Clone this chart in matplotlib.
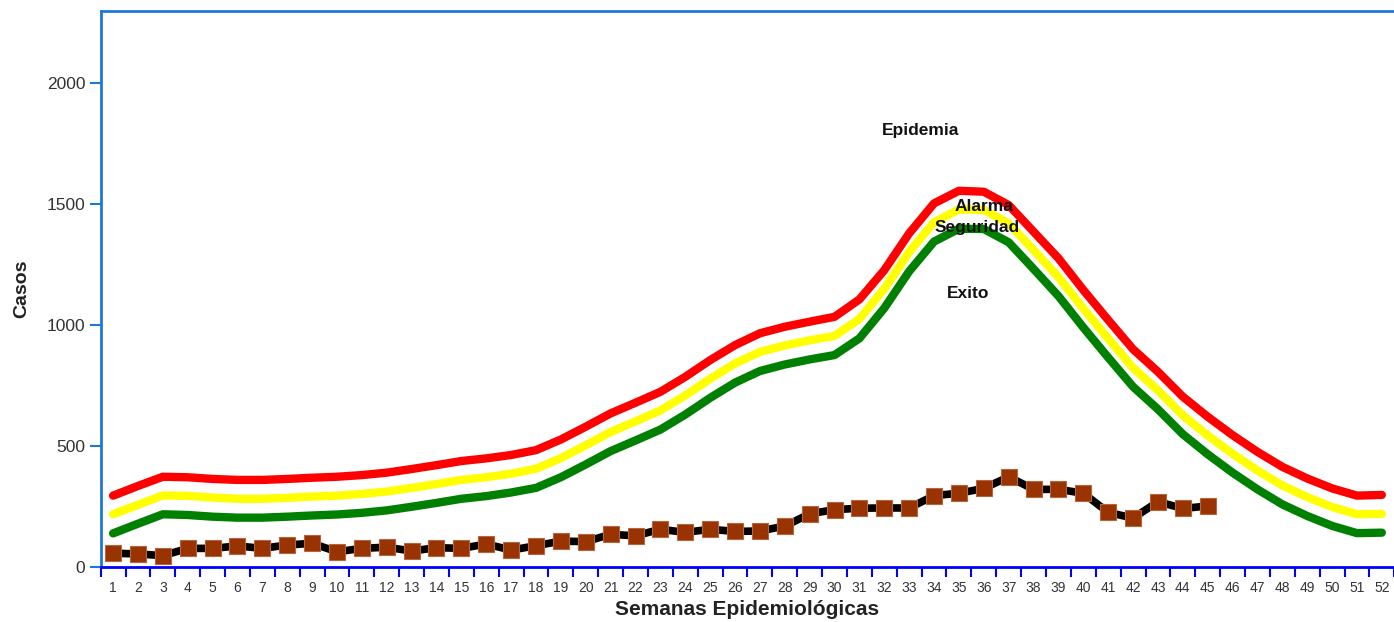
import numpy as np
import matplotlib
matplotlib.use('Agg')
import matplotlib.pyplot as plt
from matplotlib.ticker import FixedLocator

plt.rcParams['font.family'] = ['Liberation Sans', 'DejaVu Sans']

# weeks and the channel (threshold) curves
semanas = np.arange(1, 53)
epidemia = [295, 335, 373, 371, 364, 360, 360, 364, 369, 373, 380, 390, 405, 421, 438, 449,
            463, 483, 527, 580, 635, 679, 724, 786, 855, 917, 966, 993, 1014, 1034, 1106, 1227,
            1379, 1503, 1555, 1551, 1496, 1386, 1276, 1145, 1021, 900, 807, 704, 621, 545,
            476, 414, 366, 325, 295, 298]
alarma = [218, 257, 296, 294, 287, 282, 282, 286, 291, 295, 302, 312, 327, 343, 360, 371,
          386, 406, 450, 503, 558, 602, 647, 709, 778, 841, 889, 916, 937, 955, 1025, 1150,
          1302, 1425, 1478, 1476, 1420, 1310, 1198, 1068, 944, 823, 730, 627, 544, 468,
          399, 337, 289, 248, 218, 220]
seguridad = [139, 179, 218, 215, 208, 204, 204, 208, 213, 217, 224, 234, 249, 265, 282, 293,
             308, 327, 371, 424, 479, 523, 568, 630, 699, 762, 810, 837, 858, 876, 945, 1070,
             1222, 1345, 1398, 1397, 1342, 1232, 1120, 990, 866, 745, 652, 549, 466, 390,
             321, 259, 211, 170, 140, 142]

# observed cases, weeks 1-45
casos = [57, 54, 47, 77, 77, 87, 77, 91, 98, 63, 77, 82, 66, 80, 77, 95, 70, 88, 107, 105,
         135, 129, 156, 143, 156, 147, 149, 169, 220, 237, 243, 244, 244, 295, 305, 325,
         373, 321, 321, 305, 226, 202, 270, 242, 252]
semanas_casos = np.arange(1, len(casos) + 1)

# zone labels: (text, week, value)
zonas = [('Epidemia', 33.47, 1806), ('Alarma', 36.0, 1488),
         ('Seguridad', 35.75, 1404), ('Exito', 35.38, 1131)]

fig = plt.figure(figsize=(13.94, 6.22), dpi=100)
ax = fig.add_axes([0.0722, 0.0884, 0.928, 0.8947])

ax.plot(semanas, epidemia, color='#FF0000', lw=6, solid_capstyle='round', solid_joinstyle='round')
ax.plot(semanas, alarma, color='#FFFF00', lw=6, solid_capstyle='round', solid_joinstyle='round')
ax.plot(semanas, seguridad, color='#008000', lw=6, solid_capstyle='round', solid_joinstyle='round')
ax.plot(semanas_casos, casos, color='black', lw=5.5, solid_joinstyle='round',
        marker='s', ms=11.5, mfc='#993300', mec='#b5653f', mew=0.8)

for txt, x, y in zonas:
    ax.text(x, y, txt, ha='center', va='center', fontsize=12.5, fontweight='bold', color='#111111')

ax.set_xlim(0.5, 52.5)
ax.set_ylim(0, 2300)

ax.set_yticks([0, 500, 1000, 1500, 2000])
ax.tick_params(axis='y', colors='#1E78DC', length=8, width=1.5, labelsize=12.5,
               labelcolor='#333333', pad=3)

ax.set_xticks(semanas)
ax.set_xticklabels([str(s) for s in semanas])
ax.xaxis.set_minor_locator(FixedLocator(np.arange(0.5, 53, 1)))
ax.tick_params(axis='x', which='major', length=0, labelsize=10, labelcolor='#333333', pad=10)
ax.tick_params(axis='x', which='minor', length=7, width=1.5, color='#0000FF')

ax.spines['right'].set_visible(False)
ax.spines['left'].set_color('#1E78DC')
ax.spines['top'].set_color('#1E78DC')
ax.spines['bottom'].set_color('#0000FF')
for s in ['left', 'top', 'bottom']:
    ax.spines[s].set_linewidth(2)

ax.set_xlabel('Semanas Epidemiológicas', fontsize=15, fontweight='bold', color='#222222', labelpad=4)
ax.set_ylabel('Casos', fontsize=14, fontweight='bold', color='#222222', labelpad=12)

fig.savefig('out.png', dpi=100)
